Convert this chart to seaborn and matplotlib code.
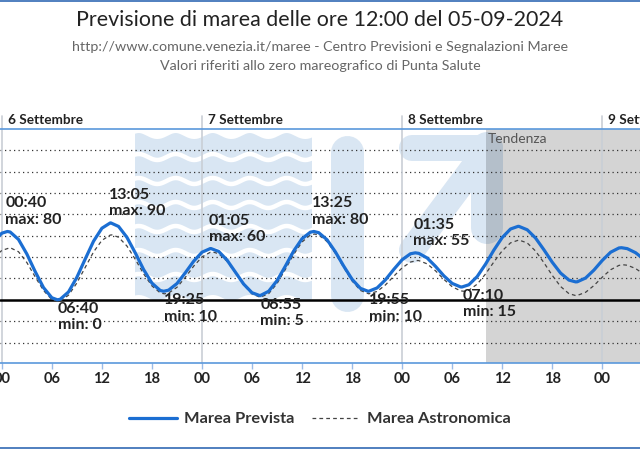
import numpy as np
import pandas as pd
import matplotlib
matplotlib.use("Agg")
import matplotlib.pyplot as plt
import matplotlib.transforms as mtransforms
from matplotlib.lines import Line2D
from matplotlib.patches import Rectangle
import seaborn as sns

# ---------------- data ----------------
title = "Previsione di marea delle ore 12:00 del 05-09-2024"
subtitle1 = "http://www.comune.venezia.it/maree - Centro Previsioni e Segnalazioni Maree"
subtitle2 = "Valori riferiti allo zero mareografico di Punta Salute"
day_labels = ["6 Settembre", "7 Settembre", "8 Settembre", "9 Settembre"]
tick_hours = list(range(0, 78, 6))
tick_labels = ["00", "06", "12", "18"] * 3 + ["00"]
tendenza_start = 58
grid_levels = [-50, -25, 25, 50, 75, 100, 125, 150, 175]
legend_labels = ["Marea Prevista", "Marea Astronomica"]

# hours from 6 Sep 00:00, values in cm
hours_prevista = [-1, 0, 0.67, 1, 2, 3, 4, 5, 6, 6.67, 7, 8, 9, 10, 11, 12, 13, 13.08,
                  14, 15, 16, 17, 18, 19, 19.42, 20, 21, 22, 23, 24, 25, 25.08,
                  26, 27, 28, 29, 30, 30.92, 31, 32, 33, 34, 35, 36, 37, 37.42,
                  38, 39, 40, 41, 42, 43, 43.92, 44, 45, 46, 47, 48, 49, 49.58,
                  50, 51, 52, 53, 54, 55, 55.17, 56, 57, 58, 59, 60, 61, 61.9,
                  62, 63, 64, 65, 66, 67, 68, 68.8, 69, 70, 71, 72, 73, 74, 74.3,
                  75, 76, 77]
marea_prevista = [68, 78, 80, 79.4, 70.7, 53.7, 33.1, 14.3, 2.4, 0, 0.6, 9.2, 26.3, 47.7, 68.6, 83.8, 90.0, 90,
                  85.9, 73.2, 55.0, 35.5, 19.5, 10.9, 10, 11.3, 19.0, 31.6, 45.1, 55.7, 60.0, 60,
                  56.7, 46.6, 32.5, 18.4, 8.3, 5, 5.0, 10.0, 22.4, 39.4, 57.2, 71.5, 79.2, 80,
                  78.6, 70.3, 56.1, 39.4, 24.0, 13.4, 10, 10.0, 13.9, 23.4, 35.6, 46.9, 53.9, 55,
                  54.4, 49.0, 39.2, 28.1, 19.2, 15.1, 15, 17.6, 27.2, 41.7, 58.2, 72.9, 82.9, 86,
                  86.0, 82.0, 72.3, 58.6, 44.0, 31.3, 23.1, 21, 21.1, 25.5, 34.8, 46.1, 55.7, 60.7, 61,
                  59.9, 55.1, 47.4]

hours_astro = [-1, 0, 1, 2, 3, 4, 5, 6, 6.7, 7, 8, 9, 10, 11, 12, 13, 13.2,
               14, 15, 16, 17, 18, 19, 19.5, 20, 21, 22, 23, 24, 25, 25.3,
               26, 27, 28, 29, 30, 31, 32, 33, 34, 35, 36, 37, 37.5,
               38, 39, 40, 41, 42, 43, 44, 45, 46, 47, 48, 49, 49.8,
               50, 51, 52, 53, 54, 55, 55.4, 56, 57, 58, 59, 60, 61, 62,
               63, 64, 65, 66, 67, 68, 68.8, 69, 70, 71, 72, 73, 74, 74.5,
               75, 76, 77]
marea_astro = [49.0, 57.8, 61, 56.3, 43.7, 26.9, 10.9, 0.3, -2, -1.6, 5.4, 19.7, 37.9, 56.0, 69.6, 75.8, 76,
               73.3, 63.0, 47.5, 30.5, 16.3, 8.1, 7, 7.9, 14.6, 26.2, 39.3, 50.1, 55.7, 56,
               54.0, 45.2, 31.7, 17.5, 6.9, 3, 7.2, 19.0, 35.6, 53.1, 67.7, 75.9, 77,
               76.0, 68.2, 54.4, 37.8, 22.1, 11.0, 7, 9.8, 17.4, 27.6, 37.4, 44.2, 46,
               45.9, 42.1, 34.0, 24.0, 15.3, 10.5, 10, 11.2, 18.3, 30.2, 44.3, 57.4, 66.7, 70,
               66.6, 57.1, 43.5, 28.6, 15.6, 7.2, 5, 5.1, 8.8, 16.7, 26.5, 35.2, 40.3, 41,
               40.5, 36.6, 29.8]

ext_day = [0, 0, 0, 0, 1, 1, 1, 1, 2, 2]
ext_time = ["00:40", "06:40", "13:05", "19:25", "01:05", "06:55", "13:25", "19:55", "01:35", "07:10"]
ext_kind = ["max", "min", "max", "min", "max", "min", "max", "min", "max", "min"]
ext_value = [80, 0, 90, 10, 60, 5, 80, 10, 55, 15]

# ---------------- style ----------------
sns.set_theme(style="white")
plt.rcParams["font.family"] = ["Lato", "DejaVu Sans"]

BLUE = "#1b6ed2"
SPINE = "#5a98dc"

fig = plt.figure(figsize=(6.4, 4.5), dpi=100)
W, H = 640, 450
ax = fig.add_axes([0, (H - 363) / H, 1, (363 - 129) / H])
x0_px, px_per_h = 1.8, 8.34
ax.set_xlim(-x0_px / px_per_h, (W - x0_px) / px_per_h)
ax.set_ylim(-74, 200)
ax.set_axisbelow(True)

# pixel transform for decoration
T = mtransforms.Affine2D().scale(1 / W, -1 / H).translate(0, 1) + fig.transFigure

# watermark logo (decoration)
LOGO = "#d9e6f3"
ax.add_patch(Rectangle((135, 133), 177, 167, transform=T, color=LOGO, lw=0, zorder=0.2))
xs = np.linspace(128, 318, 300)
for yg in [133, 157, 181, 205, 229, 253, 277, 301]:
    lw = 4.5 if yg not in (133, 301) else 6
    ax.add_line(Line2D(xs, yg + 3 * np.sin(2 * np.pi * xs / 37), transform=T,
                       color="white", lw=lw * 0.72, zorder=0.21))
ax.add_line(Line2D([346.5, 346.5], [152, 295], transform=T, color=LOGO,
                   lw=33 * 0.72, solid_capstyle="round", zorder=0.2))
ax.add_line(Line2D([412, 490], [148, 148], transform=T, color=LOGO,
                   lw=26 * 0.72, solid_capstyle="round", zorder=0.2))
ax.add_line(Line2D([487, 487], [148, 228], transform=T, color=LOGO,
                   lw=32 * 0.72, solid_capstyle="round", zorder=0.2))
ax.add_line(Line2D([412, 485], [250, 152], transform=T, color=LOGO,
                   lw=26 * 0.72, solid_capstyle="round", zorder=0.2))

# Tendenza shading
ax.axvspan(tendenza_start, 90, color="black", alpha=0.17, lw=0, zorder=0.3)
ax.text(tendenza_start + 0.25, (363 - 139) / 234, "Tendenza", transform=ax.get_xaxis_transform(),
        ha="left", va="center", fontsize=10, color="#555555", zorder=5)

# grid
ax.set_yticks(grid_levels)
ax.yaxis.grid(True, color="#333333", linestyle=(0, (1, 2.6)), lw=0.9)
ax.xaxis.grid(False)
ax.axhline(0, color="black", lw=1.8, zorder=2)

# day separators and labels
for i, lab in enumerate(day_labels):
    xd = 24 * i
    ax.axvline(xd, ymin=0, ymax=(363 - 116) / 234, color="#c9ced6", lw=1.2,
               clip_on=False, zorder=0.6)
    ax.text(xd + 0.7, (363 - 120) / 234, lab, transform=ax.get_xaxis_transform(),
            ha="left", va="center", fontsize=9.8, fontweight="bold", color="#222222")

# curves
df_p = pd.DataFrame({"ore": hours_prevista, "cm": marea_prevista})
df_a = pd.DataFrame({"ore": hours_astro, "cm": marea_astro})
sns.lineplot(data=df_a, x="ore", y="cm", ax=ax, color="#444444", lw=0.9,
             linestyle=(0, (3, 2.5)), estimator=None, zorder=3)
sns.lineplot(data=df_p, x="ore", y="cm", ax=ax, color=BLUE, lw=2.3,
             estimator=None, zorder=3.5)

# extreme labels
for d, tm, kind, v in zip(ext_day, ext_time, ext_kind, ext_value):
    hh, mm = tm.split(":")
    xh = 24 * d + int(hh) + int(mm) / 60
    txt = f"{tm}\n{kind}: {v}"
    if kind == "max":
        ax.annotate(txt, (xh, v), xytext=(-1.5, 3.5), textcoords="offset points",
                    ha="left", va="bottom", fontsize=11.5, fontweight="bold",
                    color="#222222", linespacing=1.2, zorder=5)
    else:
        ax.annotate(txt, (xh, v), xytext=(0.5, -1.5), textcoords="offset points",
                    ha="left", va="top", fontsize=11.5, fontweight="bold",
                    color="#222222", linespacing=1.2, zorder=5)

# axes cosmetics
ax.set_xticks(tick_hours)
ax.set_xticklabels(tick_labels)
ax.tick_params(axis="x", bottom=True, direction="out", length=4.3, width=1,
               color="#9bbbe6", pad=2.5, labelsize=10.5, labelcolor="#222222")
for lab in ax.get_xticklabels():
    lab.set_fontweight("bold")
ax.tick_params(axis="y", left=False, labelleft=False)
ax.set_xlabel("")
ax.set_ylabel("")
for s in ["left", "right"]:
    ax.spines[s].set_visible(False)
for s in ["top", "bottom"]:
    ax.spines[s].set_color(SPINE)
    ax.spines[s].set_linewidth(1.2)
ax.set_facecolor("white")

# titles
fig.text(0.5, 1 - 20 / H, title, ha="center", va="center", fontsize=15.4, color="#222222")
fig.text(0.5, 1 - 47 / H, subtitle1, ha="center", va="center", fontsize=10.3, color="#666666")
fig.text(0.5, 1 - 66 / H, subtitle2, ha="center", va="center", fontsize=10.3, color="#666666")

# frame lines
fig.add_artist(Line2D([0, 1], [1 - 1 / H, 1 - 1 / H], transform=fig.transFigure, color="#4f7fbf", lw=1.4))
fig.add_artist(Line2D([0, 1], [2 / H, 2 / H], transform=fig.transFigure, color="#4f7fbf", lw=1.4))

# legend
handles = [Line2D([], [], color=BLUE, lw=2.3),
           Line2D([], [], color="#444444", lw=0.9, linestyle=(0, (3, 2.5)))]
leg = fig.legend(handles, legend_labels, loc="center", bbox_to_anchor=(0.5, 1 - 419 / H),
                 ncol=2, frameon=False, handlelength=2.9, handletextpad=0.45,
                 columnspacing=1.1, prop={"weight": "bold", "size": 11.8})
for t in leg.get_texts():
    t.set_color("#333333")

fig.savefig("out.png", dpi=100)
